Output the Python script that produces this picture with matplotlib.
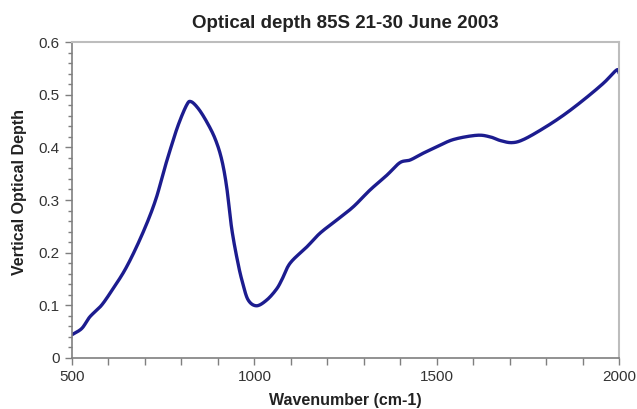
import matplotlib
matplotlib.use("Agg")
import matplotlib.pyplot as plt
from matplotlib.ticker import MultipleLocator
import numpy as np

wavenumber = [500, 527, 549, 581, 613, 645, 677, 709, 732, 750, 769, 791, 814, 826,
              846, 869, 892, 910, 924, 938, 955, 968, 983, 1006, 1034, 1060, 1075,
              1098, 1144, 1180, 1226, 1271, 1317, 1363, 1399, 1427, 1463, 1500,
              1546, 1610, 1646, 1674, 1706, 1738, 1792, 1847, 1902, 1957, 1993, 2000]
optical_depth = [0.044, 0.056, 0.078, 0.100, 0.132, 0.167, 0.211, 0.262, 0.306, 0.351,
                 0.395, 0.442, 0.480, 0.487, 0.474, 0.449, 0.417, 0.378, 0.325, 0.245,
                 0.180, 0.142, 0.110, 0.099, 0.110, 0.130, 0.148, 0.180, 0.211, 0.237,
                 0.262, 0.287, 0.319, 0.347, 0.371, 0.376, 0.389, 0.401, 0.415, 0.423,
                 0.420, 0.413, 0.409, 0.415, 0.436, 0.461, 0.490, 0.522, 0.547, 0.541]

title = "Optical depth 85S 21-30 June 2003"
xlabel = "Wavenumber (cm-1)"
ylabel = "Vertical Optical Depth"

plt.rcParams['font.family'] = ['Liberation Sans', 'DejaVu Sans']

fig = plt.figure(figsize=(6.37, 4.09), dpi=100)
ax = fig.add_axes([0.113, 0.125, 0.859, 0.772])

x = np.array(wavenumber, dtype=float)
y = np.array(optical_depth, dtype=float)

def catmull(x, y, n=20):
    px, py = [], []
    xe = np.concatenate([[2*x[0]-x[1]], x, [2*x[-1]-x[-2]]])
    ye = np.concatenate([[2*y[0]-y[1]], y, [2*y[-1]-y[-2]]])
    for i in range(1, len(xe)-2):
        t = np.linspace(0, 1, n, endpoint=False)
        for arr, out in ((xe, px), (ye, py)):
            p0, p1, p2, p3 = arr[i-1], arr[i], arr[i+1], arr[i+2]
            out.extend(0.5*((2*p1) + (-p0+p2)*t + (2*p0-5*p1+4*p2-p3)*t**2 + (-p0+3*p1-3*p2+p3)*t**3))
    px.append(x[-1]); py.append(y[-1])
    return np.array(px), np.array(py)

sx, sy = catmull(x, y)
ax.plot(sx, sy, color='#1c1c8f', lw=2.4, solid_capstyle='round', solid_joinstyle='round')

ax.set_xlim(500, 2000)
ax.set_ylim(0, 0.6)
ax.xaxis.set_major_locator(MultipleLocator(500))
ax.xaxis.set_minor_locator(MultipleLocator(100))
ax.yaxis.set_major_locator(MultipleLocator(0.1))
ax.yaxis.set_minor_locator(MultipleLocator(0.02))
ax.yaxis.set_major_formatter(matplotlib.ticker.FuncFormatter(lambda v, p: "0" if abs(v) < 1e-9 else f"{v:.1f}"))

for s in ('left', 'bottom'):
    ax.spines[s].set_color('#7f7f7f')
    ax.spines[s].set_linewidth(1.2)
for s in ('top', 'right'):
    ax.spines[s].set_color('#bdbdbd')
    ax.spines[s].set_linewidth(1.5)

ax.tick_params(axis='both', which='both', direction='out', color='#7f7f7f', labelcolor='#333333', labelsize=11)
ax.tick_params(axis='x', which='major', length=5, width=1, pad=4)
ax.tick_params(axis='x', which='minor', length=5, width=1)
ax.tick_params(axis='y', which='major', length=5, width=1, pad=4)
ax.tick_params(axis='y', which='minor', length=3, width=1)

ax.set_title(title, fontsize=13.5, fontweight='bold', color='#222222', pad=10)
ax.set_xlabel(xlabel, fontsize=11.5, fontweight='bold', color='#222222', labelpad=6)
ax.set_ylabel(ylabel, fontsize=11.5, fontweight='bold', color='#222222')
ax.yaxis.set_label_coords(-0.082, 0.525)

fig.savefig('out.png', dpi=100, facecolor='white')
